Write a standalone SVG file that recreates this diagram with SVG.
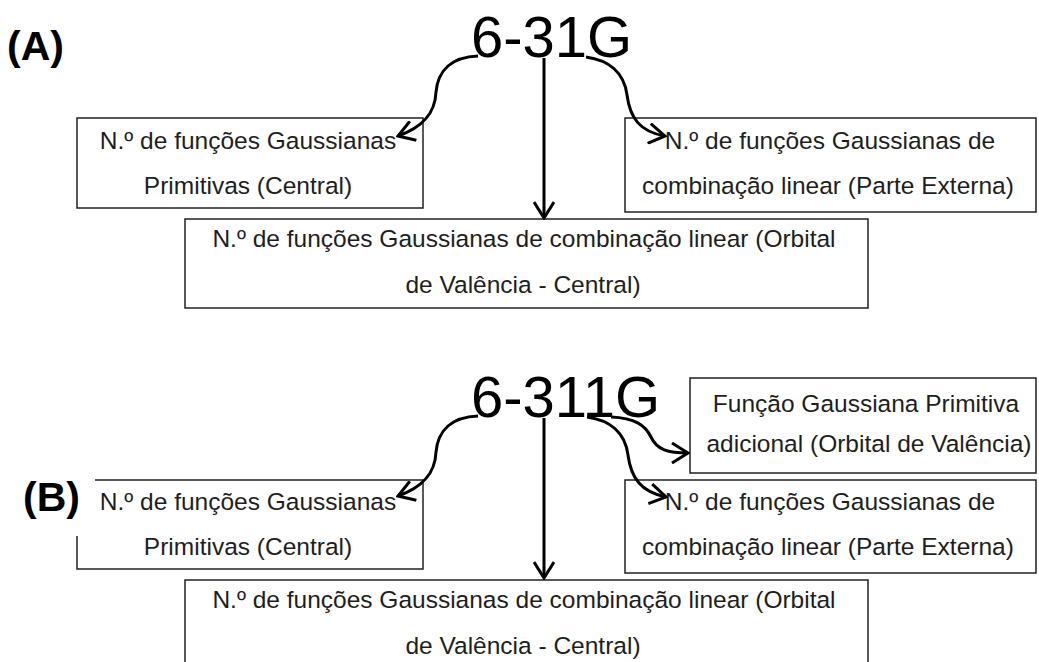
<svg xmlns="http://www.w3.org/2000/svg" width="1039" height="662" viewBox="0 0 1039 662">
<style>
.box{fill:#fff;stroke:#222;stroke-width:1.5}
.t{font-family:"Liberation Sans",Arial,sans-serif;font-size:24.5px;fill:#1e1e1e;text-anchor:middle}
.big{font-family:"Liberation Sans",Arial,sans-serif;font-size:58px;fill:#000}
.lab{font-family:"Liberation Sans",Arial,sans-serif;font-size:41px;font-weight:bold;fill:#000}
.c{fill:none;stroke:#000;stroke-width:3;marker-end:url(#ah)}
</style>
<defs>
<marker id="ah" viewBox="0 0 20 22" refX="18" refY="11" markerWidth="20" markerHeight="22" markerUnits="userSpaceOnUse" orient="auto">
<path d="M2,1 L18,11 L2,21" fill="none" stroke="#000" stroke-width="3"/>
</marker>
</defs>
<rect width="1039" height="662" fill="#fff"/>
<g id="panelA">
<text id="labelA" class="lab" x="7" y="60">(A)</text>
<text id="title631G" class="big" x="471" y="57">6-31G</text>
<g id="A-primitivas">
<rect class="box" x="77" y="118" width="346" height="90"/>
<text class="t" x="248" y="149">N.º de funções Gaussianas</text>
<text class="t" x="248" y="194">Primitivas (Central)</text>
</g>
<g id="A-externa">
<rect class="box" x="625" y="118" width="411" height="94"/>
<text class="t" x="830" y="149">N.º de funções Gaussianas de</text>
<text class="t" x="828" y="194">combinação linear (Parte Externa)</text>
</g>
<g id="A-valencia">
<rect class="box" x="185" y="219" width="683" height="89"/>
<text class="t" x="524" y="247">N.º de funções Gaussianas de combinação linear (Orbital</text>
<text class="t" x="523" y="293">de Valência - Central)</text>
</g>
</g>
<g id="panelB">
<text id="title6311G" class="big" x="471" y="417">6-311G</text>
<g id="B-adicional">
<rect class="box" x="690" y="378" width="346" height="95"/>
<text class="t" x="866" y="412">Função Gaussiana Primitiva</text>
<text class="t" x="869" y="452">adicional (Orbital de Valência)</text>
</g>
<g id="B-externa">
<rect class="box" x="625" y="480" width="411" height="93"/>
<text class="t" x="830" y="510">N.º de funções Gaussianas de</text>
<text class="t" x="828" y="555">combinação linear (Parte Externa)</text>
</g>
<g id="B-primitivas">
<rect class="box" x="77" y="480" width="346" height="89"/>
<rect x="18" y="468" width="77" height="68" fill="#fff"/>
<text class="t" x="248" y="510">N.º de funções Gaussianas</text>
<text class="t" x="248" y="555">Primitivas (Central)</text>
</g>
<text id="labelB" class="lab" x="23" y="511">(B)</text>
<g id="B-valencia">
<rect class="box" x="185" y="580" width="683" height="100"/>
<text class="t" x="524" y="608">N.º de funções Gaussianas de combinação linear (Orbital</text>
<text class="t" x="523" y="654">de Valência - Central)</text>
</g>
</g>
<g id="connectors">
<path class="c" d="M544,58 L544,218"/>
<path class="c" d="M478,56 C452,57 438,70 436,92 C435,115 421,128 398,136"/>
<path class="c" d="M586,57 C608,60 624,72 627,95 C630,118 640,132 665,136"/>
<path class="c" d="M544,418 L544,578"/>
<path class="c" d="M478,416 C452,417 438,430 436,452 C435,475 421,488 398,496"/>
<path class="c" d="M587,417 C609,420 625,432 628,455 C631,478 641,492 666,497"/>
<path class="c" d="M611,417 C635,418 645,425 651,437 C657,450 668,453 688,453"/>
</g>
</svg>
